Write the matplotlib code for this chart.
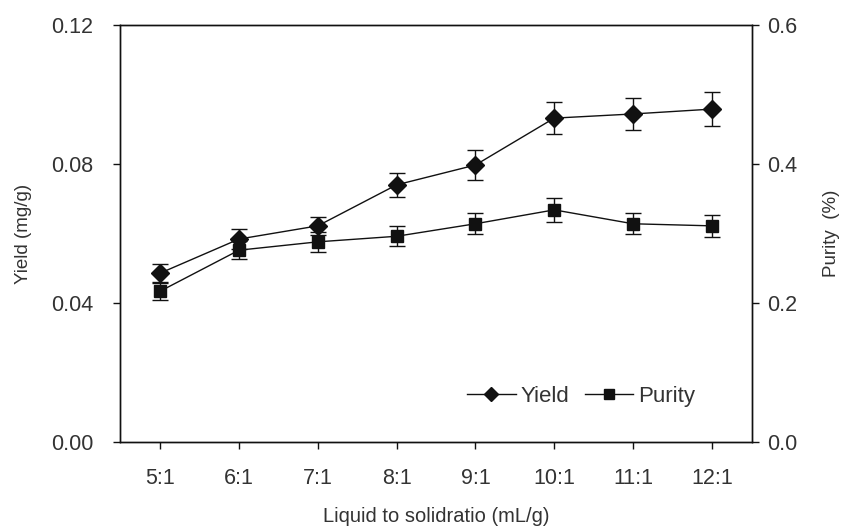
import matplotlib
matplotlib.use("Agg")
import matplotlib.pyplot as plt
from matplotlib.lines import Line2D

plt.rcParams["font.family"] = ["Liberation Sans", "DejaVu Sans"]

# Extraction data vs. liquid-to-solid ratio
ratios = ["5:1", "6:1", "7:1", "8:1", "9:1", "10:1", "11:1", "12:1"]
yield_mean = [0.0486, 0.0584, 0.0622, 0.0740, 0.0797, 0.0932, 0.0944, 0.0958]
yield_err = [0.0026, 0.0030, 0.0026, 0.0035, 0.0042, 0.0046, 0.0047, 0.0049]
purity_mean = [0.217, 0.276, 0.288, 0.296, 0.314, 0.334, 0.314, 0.311]
purity_err = [0.012, 0.013, 0.014, 0.0145, 0.015, 0.0175, 0.015, 0.016]

TXT = "#333333"
INK = "#111111"

fig = plt.figure(figsize=(8.43, 5.31), dpi=100)
ax = fig.add_axes([120 / 843, 89 / 531, 632 / 843, 417 / 531])
ax2 = ax.twinx()

x = list(range(len(ratios)))

ax.errorbar(x, yield_mean, yerr=yield_err, color=INK, marker="D",
            markersize=9, linewidth=1.0, elinewidth=1.0, capsize=6,
            capthick=1.0)
ax2.errorbar(x, purity_mean, yerr=purity_err, color=INK, marker="s",
             markersize=8.5, linewidth=1.0, elinewidth=1.0, capsize=6,
             capthick=1.0)

ax.set_xlim(-0.51, 7.51)
ax.set_ylim(0, 0.12)
ax.set_yticks([0.0, 0.04, 0.08, 0.12])
ax.set_yticklabels(["0.00", "0.04", "0.08", "0.12"])
ax2.set_ylim(0, 0.6)
ax2.set_yticks([0.0, 0.2, 0.4, 0.6])
ax2.set_yticklabels(["0.0", "0.2", "0.4", "0.6"])
ax.set_xticks(x)
ax.set_xticklabels(ratios)

for a in (ax, ax2):
    for s in a.spines.values():
        s.set_linewidth(1.0)
        s.set_color(INK)
    a.tick_params(direction="out", length=5, width=1.0, color=INK,
                  labelsize=15.5, labelcolor=TXT)
ax.tick_params(axis="y", pad=14)
ax.tick_params(axis="x", pad=14)
ax2.tick_params(axis="y", pad=6)

ax.set_xlabel("Liquid to solidratio (mL/g)", fontsize=14.5, color=TXT, labelpad=13)
ax.set_ylabel("Yield (mg/g)", fontsize=13.5, color=TXT, labelpad=14)
ax2.set_ylabel("Purity  (%)", fontsize=13.5, color=TXT, labelpad=18)

handles = [
    Line2D([], [], color=INK, linewidth=1.0, marker="D", markersize=7),
    Line2D([], [], color=INK, linewidth=1.0, marker="s", markersize=7),
]
ax.legend(handles, ["Yield", "Purity"], loc="center left", ncol=2,
          frameon=False, fontsize=16, handlelength=2.2, handletextpad=0.2,
          columnspacing=0.7, bbox_to_anchor=(0.549, 0.11), labelcolor=TXT,
          borderaxespad=0, borderpad=0)

fig.savefig("out.png", dpi=100)
plt.close(fig)
